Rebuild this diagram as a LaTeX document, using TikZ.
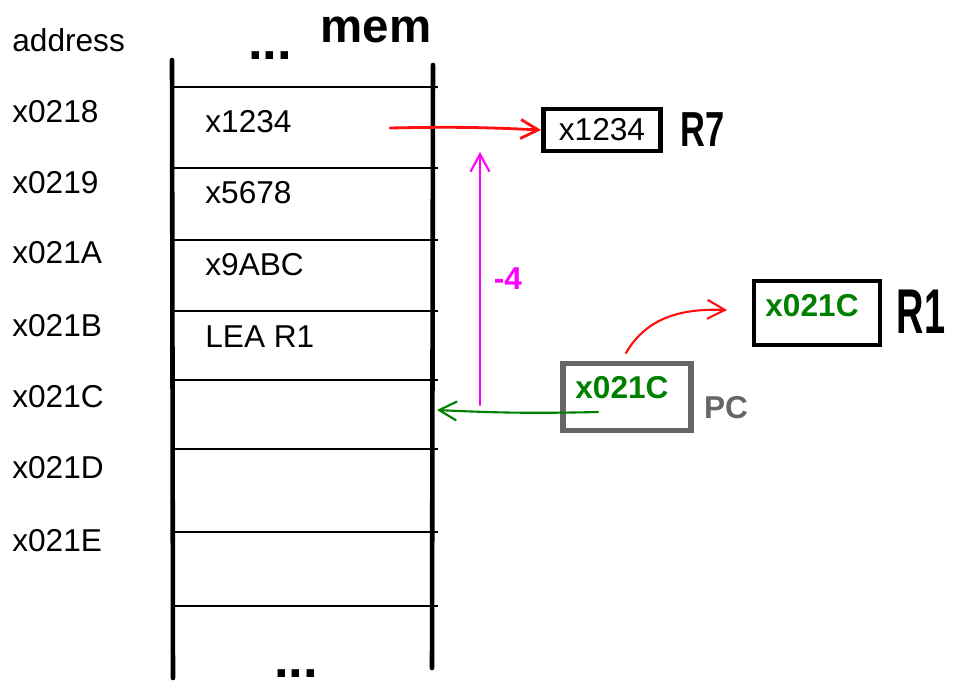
\documentclass[tikz,border=0pt]{standalone}
\usepackage{fontspec}
\setmainfont{Liberation Sans}
\usetikzlibrary{positioning,arrows.meta}
\definecolor{ink}{HTML}{000000}
\definecolor{pcgray}{HTML}{666666}
\definecolor{valgreen}{HTML}{008000}
\definecolor{offpink}{HTML}{FF00FF}
\definecolor{redpen}{HTML}{FF1010}

\begin{document}
\begin{tikzpicture}[x=0.02cm,y=-0.02cm,
  font=\fontsize{18}{21}\selectfont,
  addr/.style={anchor=west,inner sep=0pt},
  cell/.style={anchor=west,inner sep=0pt},
  rail/.style={draw=ink,line width=2.6pt,line cap=round},
  rung/.style={draw=ink,line width=1.1pt},
  reg/.style={draw=ink,line width=2.8pt,fill=white,inner sep=0pt},
  pcbox/.style={reg,draw=pcgray,line width=3.2pt},
  val/.style={font=\fontsize{18}{21}\selectfont\bfseries,text=valgreen},
  dots/.style={font=\fontsize{30}{30}\selectfont\bfseries,inner sep=0pt},
  pen/.style={-{Straight Barb[length=3.5mm,width=3.8mm]},line width=1.2pt,line cap=round},
  hand/.style={font=\fontsize{22}{26}\selectfont\bfseries,inner sep=0pt}]
  \useasboundingbox (0,0) rectangle (953,690);

  % addresses
  \node[addr] (lbladdr) at (12,40) {address};
  \node[addr] (a18) at (12,112) {x0218};
  \node[addr] (a19) at (12,183) {x0219};
  \node[addr] (a1A) at (12,253) {x021A};
  \node[addr] (a1B) at (12,326) {x021B};
  \node[addr] (a1C) at (12,397) {x021C};
  \node[addr] (a1D) at (12,468) {x021D};
  \node[addr] (a1E) at (12,541) {x021E};

  % memory
  \draw[rail] (172,60) -- (173,678);
  \draw[rail] (433,65) -- (432,668);
  \foreach \y in {87,168,240,311,380,449,532,606}
    \draw[rung] (172,\y) -- (438,\y);
  \node[dots] (dotstop) at (270,56) {...};
  \node[hand,font=\fontsize{27}{30}\selectfont\bfseries] (memlbl) at (376,30) {mem};
  \node[dots] (dotsbot) at (296,674) {...};
  \node[cell] (m18) at (205,122) {x1234};
  \node[cell] (m19) at (205,193) {x5678};
  \node[cell] (m1A) at (205,265) {x9ABC};
  \node[cell] (m1B) at (205,337) {LEA R1};
  \coordinate (m1C) at (437,410);

  % registers
  \node[reg,minimum width=2.34cm,minimum height=0.84cm] (r7) at (602,130) {x1234};
  \node[hand,right=0.34cm of r7,font=\fontsize{28}{30}\selectfont\bfseries] (r7lbl) {\scalebox{0.7}[1]{R7}};
  \node[reg,minimum width=2.52cm,minimum height=1.28cm] (r1) at (817,313) {};
  \node[val] (r1val) at (812,306) {x021C};
  \node[hand,font=\fontsize{36}{38}\selectfont\bfseries] (r1lbl) at (921,312) {\scalebox{0.6}[1]{R1}};
  \node[pcbox,minimum width=2.56cm,minimum height=1.34cm] (pc) at (627,397) {};
  \node[val] (pcval) at (622,388) {x021C};
  \node[hand,text=pcgray,font=\fontsize{18}{21}\selectfont\bfseries] (pclbl) at (726,408) {PC};

  % connectors
  \coordinate (ldsrc) at (390,128);
  \coordinate (offbot) at (480,405);
  \coordinate (offtop) at (480,152);
  \coordinate (pcsrc) at (598,412);
  \coordinate (pcup) at (626,353);
  \coordinate (r1in) at (727,310);
  \draw[pen,draw=redpen,line width=1.6pt] (ldsrc) to[bend left=2] (r7.west);
  \draw[pen,draw=offpink] (offbot) -- node[right=4pt,pos=0.5,font=\fontsize{18}{21}\selectfont\bfseries,text=offpink]{-4} (offtop);
  \draw[pen,draw=valgreen] (pcsrc) to[bend left=2] (m1C);
  \draw[pen,draw=redpen] (pcup) to[out=60,in=178] (r1in);
\end{tikzpicture}
\end{document}
